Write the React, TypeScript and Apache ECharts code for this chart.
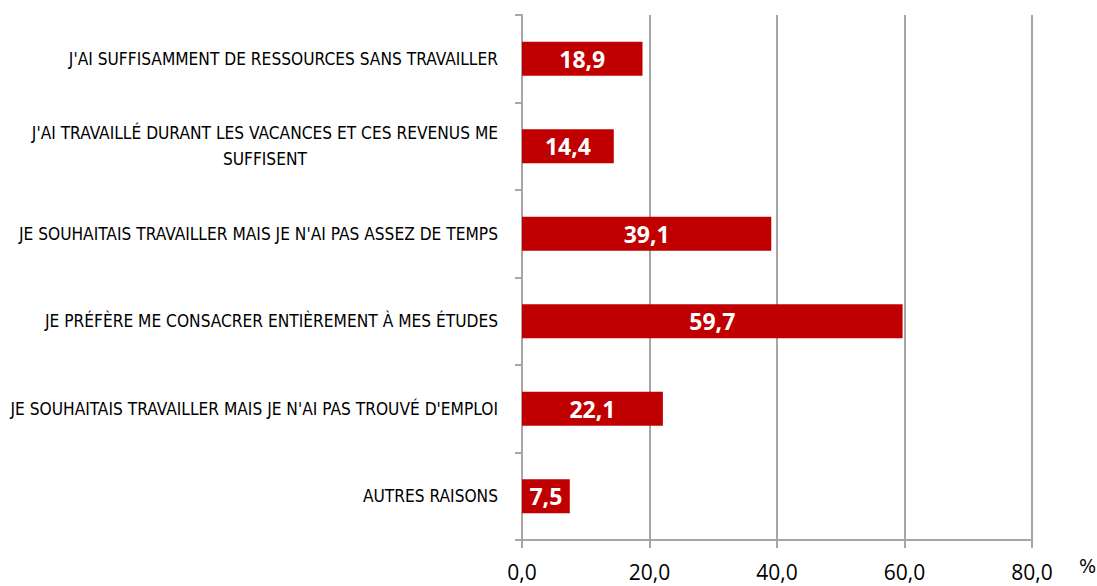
import React, { useEffect, useRef } from "react";
import * as echarts from "echarts";

const categories: string[] = [
  "J'AI SUFFISAMMENT DE RESSOURCES SANS TRAVAILLER",
  "J'AI TRAVAILLÉ DURANT LES VACANCES ET CES REVENUS ME\nSUFFISENT",
  "JE SOUHAITAIS TRAVAILLER MAIS JE N'AI PAS ASSEZ DE TEMPS",
  "JE PRÉFÈRE ME CONSACRER ENTIÈREMENT À MES ÉTUDES",
  "JE SOUHAITAIS TRAVAILLER MAIS JE N'AI PAS TROUVÉ D'EMPLOI",
  "AUTRES RAISONS",
];
const values: number[] = [18.9, 14.4, 39.1, 59.7, 22.1, 7.5];
const xTicks = { min: 0, max: 80, interval: 20 };
const unitLabel = "%";

const condensed = "'Liberation Sans Narrow', 'DejaVu Sans Condensed', 'Arial Narrow', sans-serif";
const gray = "#a6a6a6";
const fmt = (v: number) => v.toFixed(1).replace(".", ",");

export default function App() {
  const ref = useRef<HTMLDivElement>(null);
  useEffect(() => {
    document.body.style.margin = "0";
    const chart = echarts.init(ref.current!, null, { renderer: "svg" });
    chart.setOption({
      animation: false,
      backgroundColor: "#ffffff",
      grid: { left: 522, right: 65, top: 15, bottom: 46, outerBoundsMode: "none" },
      xAxis: {
        type: "value",
        min: xTicks.min,
        max: xTicks.max,
        interval: xTicks.interval,
        axisLine: { show: true, lineStyle: { color: gray, width: 2 } },
        axisTick: { show: true, length: 8, lineStyle: { color: gray, width: 2 } },
        splitLine: { show: true, lineStyle: { color: gray, width: 2 } },
        axisLabel: {
          formatter: (v: number) => fmt(v),
          fontFamily: "'Open Sans', 'Noto Sans', sans-serif",
          fontSize: 21,
          color: "#000",
          margin: 21,
        },
      },
      yAxis: {
        type: "category",
        data: categories,
        inverse: true,
        axisLine: { show: true, lineStyle: { color: gray, width: 2 } },
        axisTick: { show: true, length: 7, lineStyle: { color: gray, width: 2 } },
        axisLabel: {
          fontFamily: condensed,
          fontSize: 17.2,
          color: "#000",
          margin: 24,
          lineHeight: 26,
          formatter: (v: string) => {
            const parts = v.split("\n");
            if (parts.length === 1) return v;
            return parts.map((p, i) => (i === 0 ? p : "{c|" + p + "}")).join("\n");
          },
          rich: {
            c: { align: "center", fontFamily: condensed, fontSize: 17.2, color: "#000", lineHeight: 26 },
          },
        },
      },
      series: [
        {
          type: "bar",
          data: values,
          barWidth: "39%",
          itemStyle: { color: "#c00000" },
          label: {
            show: true,
            position: "inside",
            formatter: (p: any) => fmt(p.value),
            color: "#fff",
            fontWeight: "bold",
            fontFamily: "'Open Sans', 'Noto Sans', sans-serif",
            fontSize: 23,
          },
        },
      ],
      graphic: [
        {
          type: "text",
          left: 1079,
          top: 556,
          style: { text: unitLabel, fontFamily: condensed, fontSize: 20, fill: "#000" },
        },
      ],
    });
    return () => chart.dispose();
  }, []);
  return <div ref={ref} style={{ width: 1097, height: 586 }} />;
}
